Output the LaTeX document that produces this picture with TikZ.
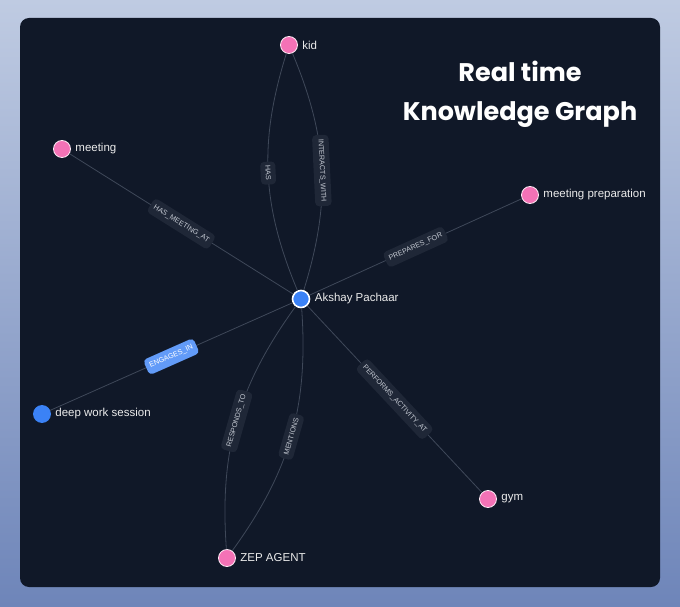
\documentclass[tikz,border=0pt]{standalone}
\usepackage{fontspec}
\setmainfont{Liberation Sans}
\newfontfamily\titlefont{Poppins}

\definecolor{panel}{HTML}{101828}
\definecolor{wire}{HTML}{3F4859}
\definecolor{tagfill}{HTML}{1F2737}
\definecolor{tagtext}{HTML}{C4C9D2}
\definecolor{pinkdot}{HTML}{F472B6}
\definecolor{bluedot}{HTML}{3B82F6}
\definecolor{skytop}{HTML}{BFCBE2}
\definecolor{skybottom}{HTML}{6E85B9}

\begin{document}
\begin{tikzpicture}[x=1pt, y=1pt,
  thing/.style={circle, fill=pinkdot, draw=white!85!pinkdot, line width=0.8pt, minimum size=17pt, inner sep=0pt,
    label={[text=white!92!black, font=\fontsize{11.5}{13}\selectfont, xshift=1pt]right:#1}},
  person/.style={thing=#1, fill=bluedot, draw=white, line width=1.6pt},
  relation/.style={draw=wire, line width=0.8pt},
  tag/.style={sloped, fill=tagfill, text=tagtext, rounded corners=4pt, inner xsep=4pt, inner ysep=5pt,
    font=\fontsize{7.2}{8}\selectfont}]
\shade[top color=skytop, bottom color=skybottom] (0,0) rectangle (680,606);
\fill[panel, rounded corners=9pt] (20,19) rectangle (660,588);

\node[text=white, align=center, font=\titlefont\bfseries\fontsize{25.5}{39}\selectfont] (title) at (520,512) {Real time\\Knowledge Graph};

\node[thing=kid] (kid) at (289,561) {};
\node[thing=meeting] (meeting) at (62,457) {};
\node[thing=meeting preparation] (prep) at (530,411) {};
\node[person=Akshay Pachaar] (akshay) at (301,307) {};
\node[thing=deep work session, fill=bluedot, draw=bluedot] (deep) at (42,192) {};
\node[thing=gym] (gym) at (488,107) {};
\node[thing=ZEP AGENT] (zep) at (227,48) {};

\draw[relation] (kid) to[bend right=20] node[tag] {HAS} (akshay);
\draw[relation] (kid) to[bend left=20] node[tag] {INTERACTS\_WITH} (akshay);
\draw[relation] (meeting) -- node[tag] {HAS\_MEETING\_AT} (akshay);
\draw[relation] (akshay) -- node[tag] {PREPARES\_FOR} (prep);
\draw[relation] (deep) -- node[tag, fill=bluedot!80!white, text=white] {ENGAGES\_IN} (akshay);
\draw[relation] (akshay) -- node[tag] {PERFORMS\_ACTIVITY\_AT} (gym);
\draw[relation] (akshay) to[bend right=20] node[tag] {RESPONDS\_TO} (zep);
\draw[relation] (akshay) to[bend left=20] node[tag] {MENTIONS} (zep);
\end{tikzpicture}
\end{document}
